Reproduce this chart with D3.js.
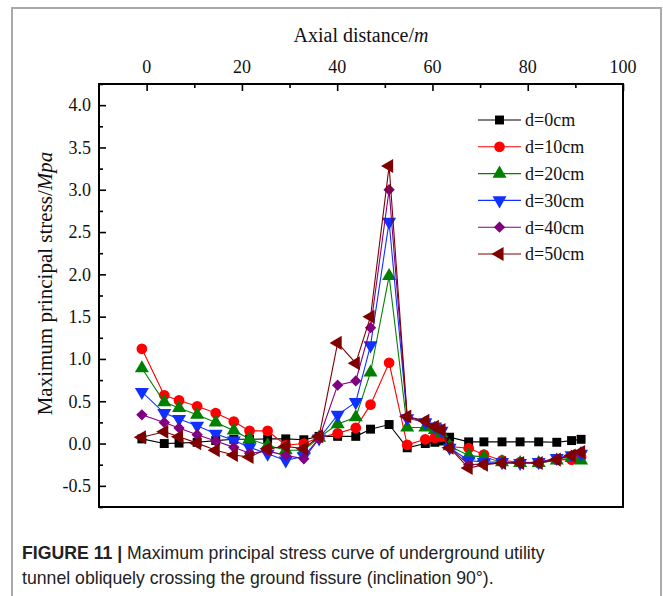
<!DOCTYPE html>
<html lang="en">
<head>
<meta charset="utf-8">
<title>Maximum principal stress</title>
<script src="https://d3js.org/d3.v7.min.js"></script>
<style>
  body { margin: 0; background: #fff; }
  svg text { font-family: "Liberation Serif", "Times New Roman", serif; fill: #111; }
  .caption { font-family: "Liberation Sans", Arial, sans-serif; fill: #222; }
</style>
</head>
<body>
<div id="chart"></div>
<script>
// axial positions (m) shared by every series
const distance = [-1, 3.7, 6.8, 10.6, 14.5, 18.3, 21.6, 25.4, 29.2, 33, 36.2, 40.1, 43.9, 47.0,
  50.9, 54.7, 58.5, 60.5, 61.9, 63.6, 67.6, 70.8, 74.6, 78.4, 82.3, 86.1, 89.2, 91.2];

const d0 = [0.055, 0.0, 0.005, 0.015, 0.035, 0.05, 0.05, 0.055, 0.055, 0.045, 0.085, 0.085, 0.085, 0.17,
  0.225, -0.05, 0.0, 0.015, 0.03, 0.075, 0.02, 0.02, 0.02, 0.02, 0.02, 0.015, 0.035, 0.05];
const d10 = [1.12, 0.57, 0.51, 0.44, 0.36, 0.26, 0.15, 0.15, -0.02, 0.0, 0.07, 0.12, 0.185, 0.46,
  0.955, -0.015, 0.05, 0.07, 0.08, -0.035, -0.055, -0.13, -0.2, -0.22, -0.23, -0.19, -0.19, -0.16];
const d20 = [0.89, 0.49, 0.42, 0.34, 0.25, 0.155, 0.055, -0.02, -0.08, -0.08, 0.07, 0.23, 0.31, 0.84,
  1.98, 0.19, 0.19, 0.16, 0.12, -0.03, -0.14, -0.16, -0.22, -0.23, -0.23, -0.2, -0.17, -0.2];
const d30 = [0.61, 0.36, 0.29, 0.21, 0.115, 0.035, -0.045, -0.12, -0.2, -0.15, 0.06, 0.34, 0.49, 1.16,
  2.62, 0.3, 0.25, 0.2, 0.15, -0.05, -0.2, -0.22, -0.22, -0.23, -0.22, -0.17, -0.14, -0.12];
const d40 = [0.34, 0.25, 0.185, 0.105, 0.03, -0.045, -0.115, -0.09, -0.14, -0.18, 0.06, 0.69, 0.74, 1.37,
  3.0, 0.31, 0.26, 0.2, 0.17, -0.05, -0.25, -0.24, -0.23, -0.23, -0.22, -0.18, -0.14, -0.1];
const d50 = [0.075, 0.14, 0.08, 0.005, -0.08, -0.135, -0.16, -0.06, -0.035, -0.06, 0.085, 1.19, 0.95, 1.5,
  3.28, 0.32, 0.27, 0.2, 0.16, -0.05, -0.29, -0.25, -0.23, -0.23, -0.23, -0.19, -0.14, -0.1];

const seriesNames = ["d=0cm", "d=10cm", "d=20cm", "d=30cm", "d=40cm", "d=50cm"];
const seriesValues = [d0, d10, d20, d30, d40, d50];
const seriesColors = ["#000000", "#ff0000", "#008000", "#1030ff", "#800080", "#800000"];
const seriesShapes = ["square", "circle", "triangleUp", "triangleDown", "diamond", "triangleLeft"];

const xTicks = [0, 20, 40, 60, 80, 100];
const yTicks = [-0.5, 0.0, 0.5, 1.0, 1.5, 2.0, 2.5, 3.0, 3.5, 4.0];

const W = 663, H = 596;
const plot = { left: 99, right: 623, top: 84, bottom: 507 };

const svg = d3.select("#chart").append("svg")
  .attr("width", W).attr("height", H);

// light page frame
svg.append("path")
  .attr("d", `M12,${H} V8 H661 V${H}`)
  .attr("fill", "none").attr("stroke", "#aaa").attr("stroke-width", 2);

const x = d3.scaleLinear().domain([-10, 100]).range([plot.left, plot.right]);
const y = d3.scaleLinear().domain([-0.75, 4.25]).range([plot.bottom, plot.top]);

// top axis, ticks pointing into the plot
const xAxis = svg.append("g").attr("transform", `translate(0,${plot.top})`);
xAxis.call(d3.axisTop(x).tickValues(d3.range(0, 101, 10)).tickSizeInner(-4).tickSizeOuter(0).tickFormat(""));
xAxis.call(g => g.selectAll(".tick line").filter(d => d % 20 === 0).attr("y2", 7));
xAxis.selectAll(".tick line").attr("stroke", "#000").attr("stroke-width", 1.6);
xAxis.select(".domain").remove();
xAxis.selectAll(".lbl").data(xTicks).join("text")
  .attr("x", d => x(d)).attr("y", -11)
  .attr("text-anchor", "middle").attr("font-size", 18).text(d => d);

// left axis, ticks pointing into the plot
const yAxis = svg.append("g").attr("transform", `translate(${plot.left},0)`);
yAxis.call(d3.axisLeft(y).tickValues(d3.range(-0.75, 4.26, 0.25)).tickSizeInner(-4).tickSizeOuter(0).tickFormat(""));
yAxis.call(g => g.selectAll(".tick line").filter(d => Math.abs(d * 2 - Math.round(d * 2)) < 1e-6).attr("x2", 7));
yAxis.selectAll(".tick line").attr("stroke", "#000").attr("stroke-width", 1.6);
yAxis.select(".domain").remove();
yAxis.selectAll(".lbl").data(yTicks).join("text")
  .attr("x", -8).attr("y", d => y(d)).attr("dy", "0.35em")
  .attr("text-anchor", "end").attr("font-size", 18).text(d => d.toFixed(1));

// plot frame
svg.append("rect")
  .attr("x", plot.left).attr("y", plot.top)
  .attr("width", plot.right - plot.left).attr("height", plot.bottom - plot.top)
  .attr("fill", "none").attr("stroke", "#000").attr("stroke-width", 2);

// axis titles
const xTitle = svg.append("text")
  .attr("x", (plot.left + plot.right) / 2).attr("y", 42)
  .attr("text-anchor", "middle").attr("font-size", 20);
xTitle.append("tspan").text("Axial distance/");
xTitle.append("tspan").attr("font-style", "italic").text("m");

const yTitle = svg.append("text")
  .attr("transform", `translate(52,${(plot.top + plot.bottom) / 2 - 12}) rotate(-90)`)
  .attr("text-anchor", "middle").attr("font-size", 21);
yTitle.append("tspan").text("Maximum principal stress/");
yTitle.append("tspan").attr("font-style", "italic").text("Mpa");

// marker paths; the diamond is a square turned 45 degrees
const symbols = {
  square: d3.symbol(d3.symbolSquare, 80),
  circle: d3.symbol(d3.symbolCircle, 90),
  triangleUp: d3.symbol(d3.symbolTriangle, 85),
  triangleDown: d3.symbol(d3.symbolTriangle, 85),
  diamond: d3.symbol(d3.symbolSquare, 64),
  triangleLeft: d3.symbol(d3.symbolTriangle, 85)
};
const rotation = { triangleDown: 180, triangleLeft: -90, diamond: 45 };

const line = d3.line().x(d => x(d[0])).y(d => y(d[1]));

seriesValues.forEach((vals, i) => {
  const pts = distance.map((dx, j) => [dx, vals[j]]);
  const g = svg.append("g");
  g.append("path").datum(pts)
    .attr("d", line).attr("fill", "none")
    .attr("stroke", seriesColors[i]).attr("stroke-width", 1.1);
  g.selectAll("path.m").data(pts).join("path")
    .attr("class", "m")
    .attr("d", symbols[seriesShapes[i]]())
    .attr("transform", d => `translate(${x(d[0])},${y(d[1])}) rotate(${rotation[seriesShapes[i]] || 0})`)
    .attr("fill", seriesColors[i]);
});

// legend
const legend = svg.append("g").attr("transform", "translate(478,120)");
seriesNames.forEach((name, i) => {
  const row = legend.append("g").attr("transform", `translate(0,${i * 26.8})`);
  row.append("line").attr("x1", 0).attr("x2", 43).attr("stroke", seriesColors[i]).attr("stroke-width", 1.1);
  row.append("path")
    .attr("d", symbols[seriesShapes[i]]())
    .attr("transform", `translate(21.5,0) rotate(${rotation[seriesShapes[i]] || 0})`)
    .attr("fill", seriesColors[i]);
  row.append("text").attr("x", 47).attr("y", 0).attr("dy", "0.35em")
    .attr("font-size", 18).text(name);
});

// figure caption, squeezed to a condensed width
const cap1 = svg.append("text").attr("class", "caption").attr("x", 22).attr("y", 559).attr("font-size", 19);
cap1.append("tspan").attr("font-weight", "bold").text("FIGURE 11 | ");
cap1.append("tspan").text("Maximum principal stress curve of underground utility");
const cap2 = svg.append("text").attr("class", "caption").attr("x", 22).attr("y", 584).attr("font-size", 19)
  .text("tunnel obliquely crossing the ground fissure (inclination 90°).");
[cap1, cap2].forEach(t => {
  const w = t.node().getComputedTextLength();
  t.attr("textLength", w * 0.93).attr("lengthAdjust", "spacingAndGlyphs");
});
</script>
</body>
</html>
